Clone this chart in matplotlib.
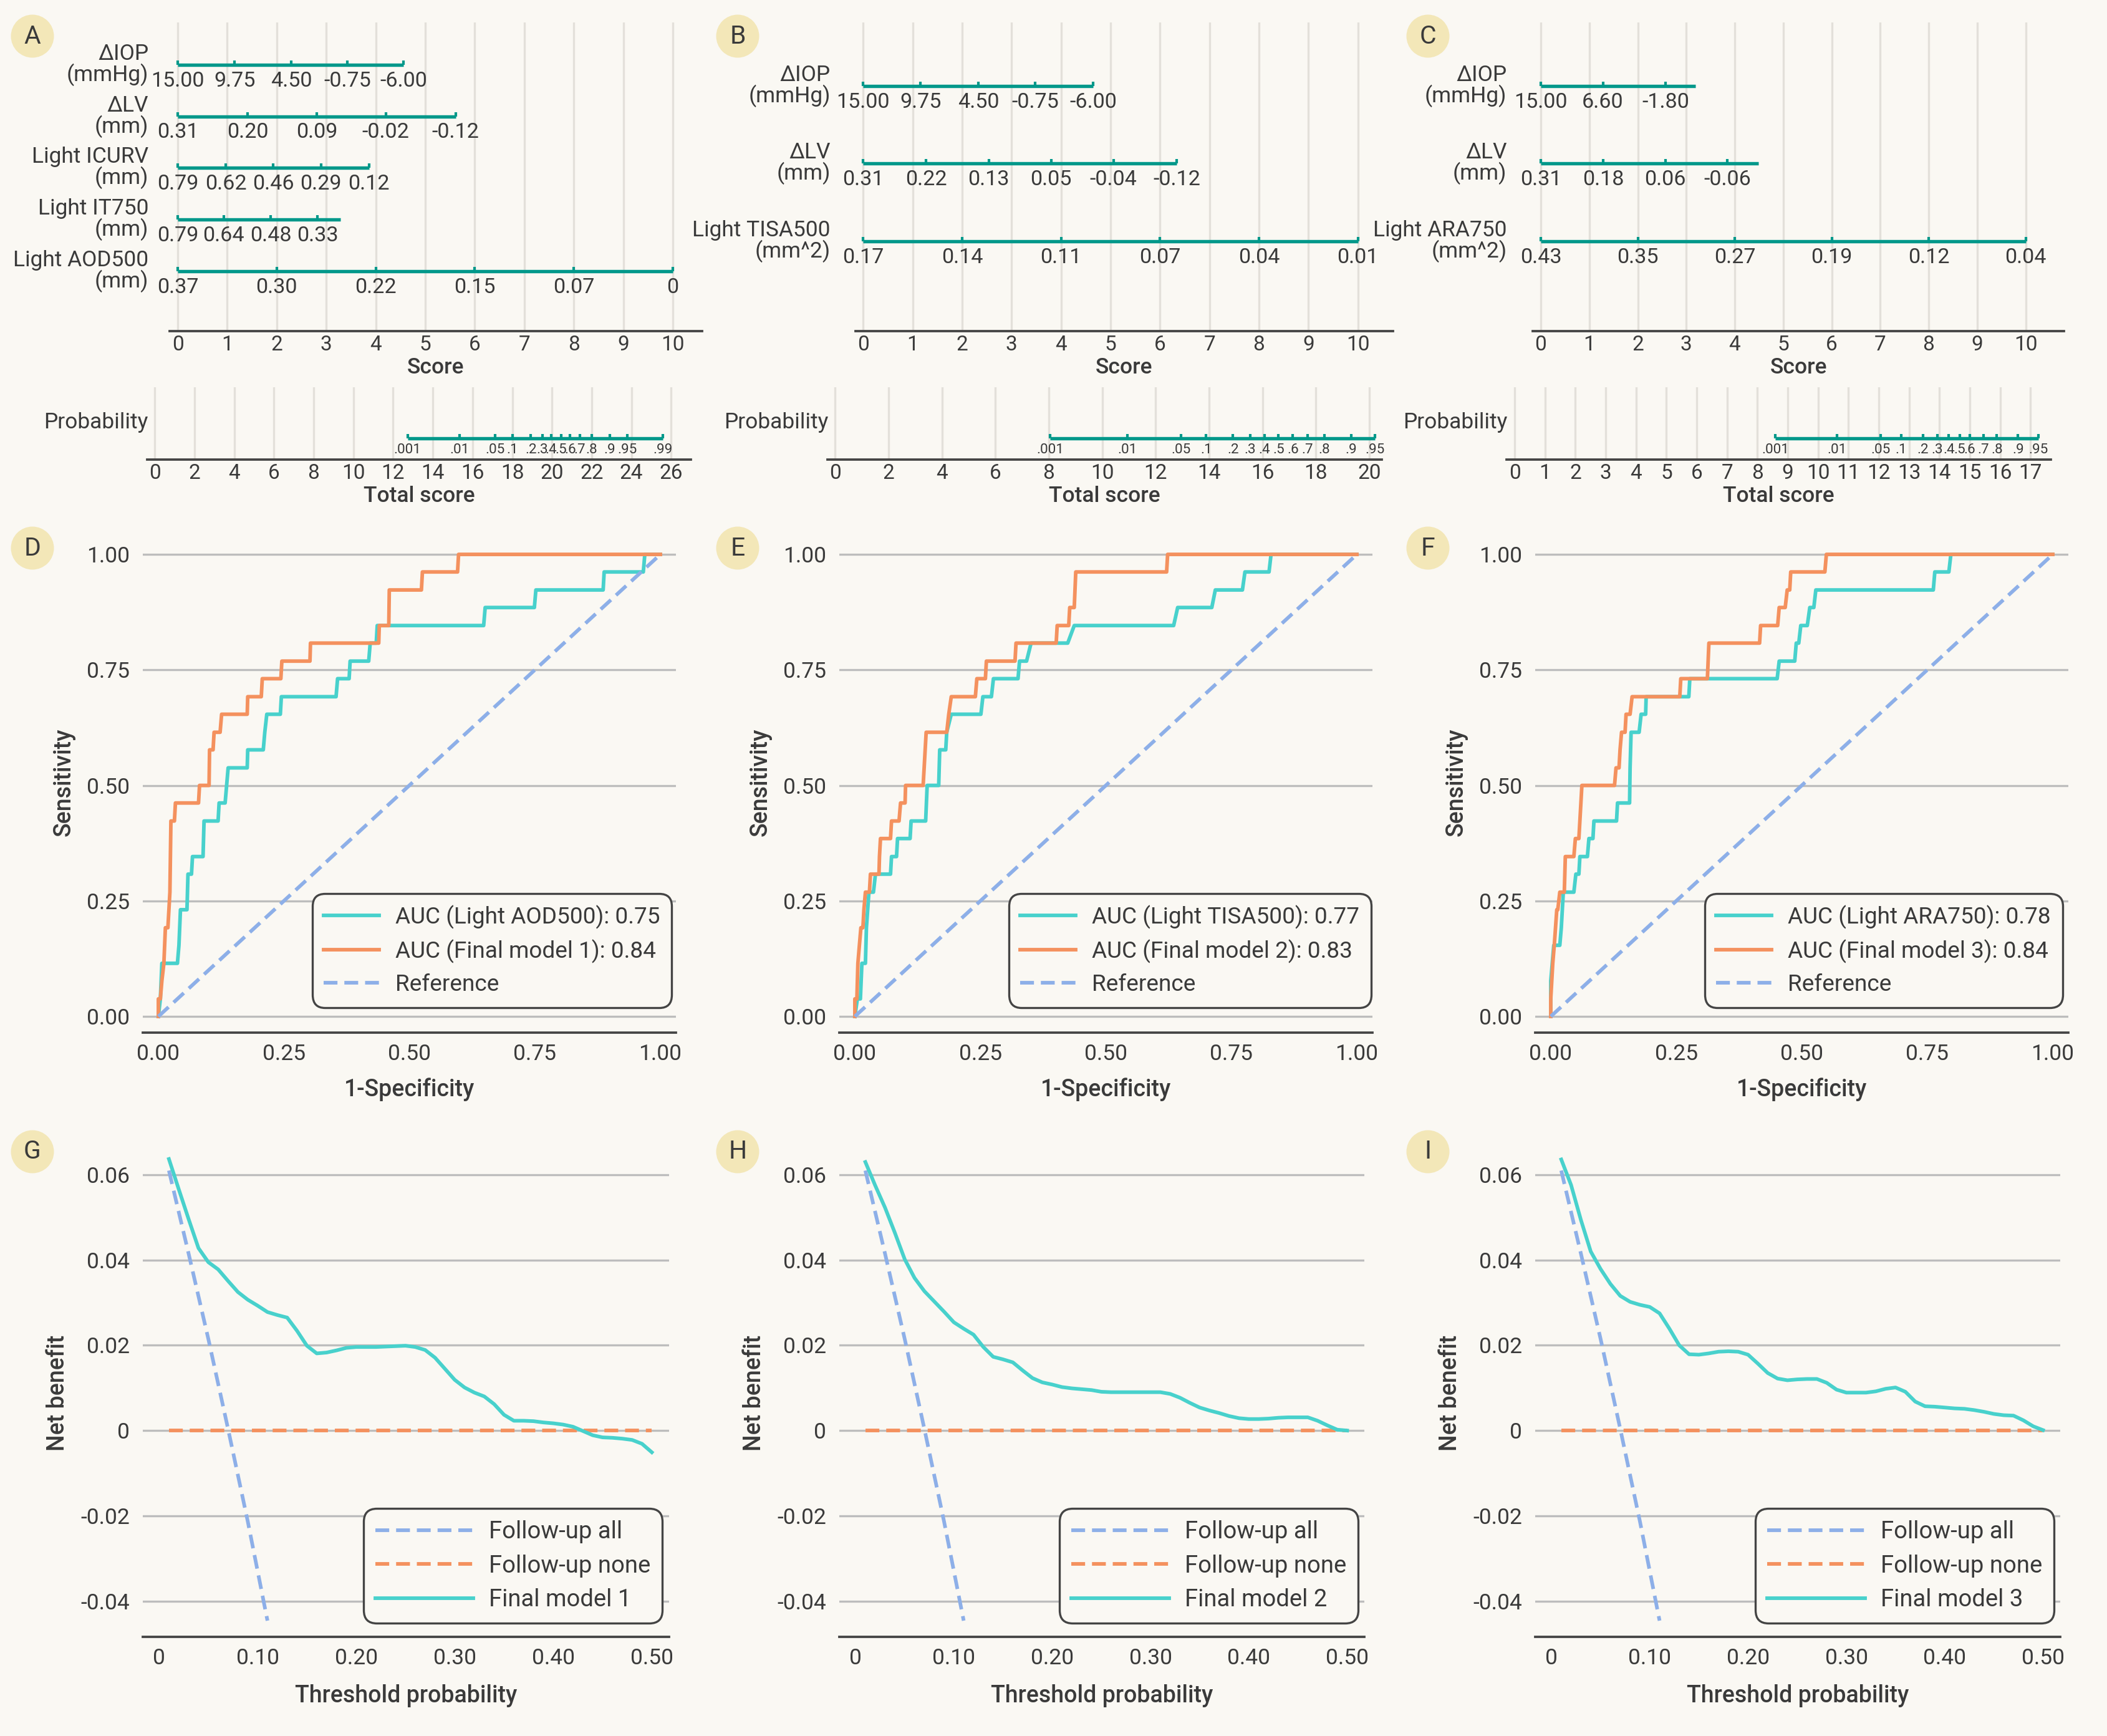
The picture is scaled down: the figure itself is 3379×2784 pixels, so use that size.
import numpy as np
import matplotlib
matplotlib.use("Agg")
import matplotlib.pyplot as plt
from matplotlib.patches import Ellipse

plt.rcParams['font.family'] = ['Roboto', 'DejaVu Sans']

# ---------------- data ----------------
# nomogram A
nomo_a_vars = ["ΔIOP\n(mmHg)", "ΔLV\n(mm)", "Light ICURV\n(mm)", "Light IT750\n(mm)", "Light AOD500\n(mm)"]
nomo_a_ticks = [["15.00", "9.75", "4.50", "-0.75", "-6.00"],
                ["0.31", "0.20", "0.09", "-0.02", "-0.12"],
                ["0.79", "0.62", "0.46", "0.29", "0.12"],
                ["0.79", "0.64", "0.48", "0.33"],
                ["0.37", "0.30", "0.22", "0.15", "0.07", "0"]]
nomo_a_points = [[0, 1.15, 2.29, 3.43, 4.56],
                 [0, 1.41, 2.81, 4.20, 5.61],
                 [0, 0.97, 1.93, 2.89, 3.86],
                 [0, 0.93, 1.88, 2.82],
                 [0, 2, 4, 6, 8, 10]]
nomo_a_ends = [4.56, 5.61, 3.86, 3.29, 10]

# nomogram B
nomo_b_vars = ["ΔIOP\n(mmHg)", "ΔLV\n(mm)", "Light TISA500\n(mm^2)"]
nomo_b_ticks = [["15.00", "9.75", "4.50", "-0.75", "-6.00"],
                ["0.31", "0.22", "0.13", "0.05", "-0.04", "-0.12"],
                ["0.17", "0.14", "0.11", "0.07", "0.04", "0.01"]]
nomo_b_points = [[0, 1.16, 2.33, 3.48, 4.65],
                 [0, 1.27, 2.54, 3.80, 5.06, 6.34],
                 [0, 2, 4, 6, 8, 10]]
nomo_b_ends = [4.65, 6.34, 10]

# nomogram C
nomo_c_vars = ["ΔIOP\n(mmHg)", "ΔLV\n(mm)", "Light ARA750\n(mm^2)"]
nomo_c_ticks = [["15.00", "6.60", "-1.80"],
                ["0.31", "0.18", "0.06", "-0.06"],
                ["0.43", "0.35", "0.27", "0.19", "0.12", "0.04"]]
nomo_c_points = [[0, 1.28, 2.57],
                 [0, 1.29, 2.57, 3.85],
                 [0, 2, 4, 6, 8, 10]]
nomo_c_ends = [3.19, 4.49, 10]

# probability scales (total score of each probability tick)
prob_labels = [".001", ".01", ".05", ".1", ".2", ".3", ".4", ".5", ".6", ".7", ".8", ".9", ".95", ".99"]
prob_a_total = [12.73, 15.33, 17.13, 18.01, 18.93, 19.51, 19.96, 20.46, 20.91, 21.40, 21.99, 22.90, 23.78, 25.59]
prob_b_total = [8.05, 10.94, 12.96, 13.89, 14.90, 15.54, 16.08, 16.60, 17.14, 17.68, 18.32, 19.33, 20.22]
prob_c_total = [8.59, 10.62, 12.07, 12.74, 13.45, 13.92, 14.31, 14.66, 15.00, 15.45, 15.89, 16.59, 17.25]

# ROC curves (1-specificity, sensitivity)
roc_d_base = [(0, 0), (0.004, 0.038), (0.007, 0.115), (0.038, 0.115), (0.041, 0.154), (0.044, 0.231),
              (0.057, 0.231), (0.059, 0.308), (0.066, 0.308), (0.068, 0.346), (0.089, 0.346), (0.091, 0.423),
              (0.119, 0.423), (0.121, 0.462), (0.133, 0.462), (0.136, 0.500), (0.139, 0.538), (0.177, 0.538),
              (0.178, 0.577), (0.209, 0.577), (0.212, 0.615), (0.216, 0.654), (0.243, 0.654), (0.245, 0.692),
              (0.354, 0.692), (0.357, 0.731), (0.380, 0.731), (0.382, 0.769), (0.419, 0.769), (0.422, 0.808),
              (0.434, 0.808), (0.436, 0.846), (0.648, 0.846), (0.651, 0.885), (0.749, 0.885), (0.752, 0.923),
              (0.886, 0.923), (0.888, 0.962), (0.966, 0.962), (0.969, 1.0), (1.0, 1.0)]
roc_d_final = [(0, 0), (0, 0.038), (0.004, 0.038), (0.007, 0.077), (0.011, 0.115), (0.014, 0.192), (0.019, 0.192),
               (0.023, 0.269), (0.025, 0.423), (0.032, 0.423), (0.034, 0.462), (0.080, 0.462), (0.082, 0.500),
               (0.101, 0.500), (0.102, 0.577), (0.109, 0.577), (0.111, 0.615), (0.123, 0.615), (0.126, 0.654),
               (0.177, 0.654), (0.178, 0.692), (0.205, 0.692), (0.207, 0.731), (0.244, 0.731), (0.246, 0.769),
               (0.302, 0.769), (0.303, 0.808), (0.439, 0.808), (0.440, 0.846), (0.459, 0.846), (0.460, 0.923),
               (0.524, 0.923), (0.526, 0.962), (0.596, 0.962), (0.598, 1.0), (1.0, 1.0)]
roc_e_base = [(0, 0), (0.005, 0.038), (0.011, 0.038), (0.014, 0.115), (0.021, 0.115), (0.023, 0.192),
              (0.028, 0.269), (0.037, 0.269), (0.041, 0.308), (0.071, 0.308), (0.073, 0.346), (0.083, 0.346),
              (0.085, 0.385), (0.110, 0.385), (0.112, 0.423), (0.141, 0.423), (0.144, 0.500), (0.167, 0.500),
              (0.169, 0.577), (0.181, 0.577), (0.183, 0.615), (0.192, 0.654), (0.251, 0.654), (0.255, 0.692),
              (0.272, 0.692), (0.276, 0.731), (0.325, 0.731), (0.328, 0.769), (0.342, 0.769), (0.351, 0.808),
              (0.424, 0.808), (0.437, 0.846), (0.635, 0.846), (0.643, 0.885), (0.711, 0.885), (0.718, 0.923),
              (0.772, 0.923), (0.777, 0.962), (0.825, 0.962), (0.829, 1.0), (1.0, 1.0)]
roc_e_final = [(0, 0), (0, 0.038), (0.004, 0.038), (0.005, 0.077), (0.006, 0.115), (0.009, 0.154), (0.012, 0.192),
               (0.016, 0.192), (0.018, 0.231), (0.021, 0.269), (0.029, 0.269), (0.031, 0.308), (0.048, 0.308),
               (0.049, 0.346), (0.051, 0.385), (0.071, 0.385), (0.073, 0.423), (0.088, 0.423), (0.091, 0.462),
               (0.100, 0.462), (0.101, 0.500), (0.136, 0.500), (0.138, 0.538), (0.142, 0.615), (0.183, 0.615),
               (0.187, 0.654), (0.192, 0.692), (0.240, 0.692), (0.243, 0.731), (0.260, 0.731), (0.262, 0.769),
               (0.319, 0.769), (0.321, 0.808), (0.401, 0.808), (0.403, 0.846), (0.426, 0.846), (0.428, 0.885),
               (0.437, 0.885), (0.440, 0.962), (0.621, 0.962), (0.623, 1.0), (1.0, 1.0)]
roc_f_base = [(0, 0), (0, 0.077), (0.006, 0.154), (0.018, 0.154), (0.021, 0.192), (0.025, 0.269), (0.046, 0.269),
              (0.050, 0.308), (0.056, 0.308), (0.058, 0.346), (0.073, 0.346), (0.076, 0.385), (0.084, 0.385),
              (0.086, 0.423), (0.131, 0.423), (0.133, 0.462), (0.157, 0.462), (0.158, 0.538), (0.160, 0.615),
              (0.176, 0.615), (0.180, 0.654), (0.189, 0.654), (0.190, 0.692), (0.275, 0.692), (0.277, 0.731),
              (0.451, 0.731), (0.455, 0.769), (0.486, 0.769), (0.489, 0.808), (0.494, 0.808), (0.498, 0.846),
              (0.511, 0.846), (0.516, 0.885), (0.524, 0.885), (0.528, 0.923), (0.762, 0.923), (0.765, 0.962),
              (0.793, 0.962), (0.797, 1.0), (1.0, 1.0)]
roc_f_final = [(0, 0), (0, 0.038), (0.004, 0.115), (0.007, 0.154), (0.012, 0.231), (0.014, 0.231), (0.018, 0.269),
               (0.027, 0.269), (0.029, 0.346), (0.046, 0.346), (0.049, 0.385), (0.056, 0.385), (0.058, 0.423),
               (0.062, 0.500), (0.127, 0.500), (0.130, 0.538), (0.136, 0.538), (0.138, 0.577), (0.141, 0.615),
               (0.148, 0.615), (0.150, 0.654), (0.158, 0.654), (0.162, 0.692), (0.257, 0.692), (0.259, 0.731),
               (0.312, 0.731), (0.315, 0.808), (0.416, 0.808), (0.418, 0.846), (0.452, 0.846), (0.455, 0.885),
               (0.467, 0.885), (0.471, 0.923), (0.476, 0.923), (0.478, 0.962), (0.546, 0.962), (0.549, 1.0),
               (1.0, 1.0)]
roc_names = ["Light AOD500", "Light TISA500", "Light ARA750"]
auc_base = [0.75, 0.77, 0.78]
auc_final = [0.84, 0.83, 0.84]

# decision curves
thresholds = np.arange(1, 51) / 100
nb_g = [0.0637, 0.0566, 0.0496, 0.0428, 0.0395, 0.0378, 0.0351, 0.0325, 0.0307, 0.0293,
        0.0278, 0.0271, 0.0265, 0.0234, 0.0199, 0.0181, 0.0183, 0.0188, 0.0194, 0.0196,
        0.0196, 0.0196, 0.0197, 0.0198, 0.0199, 0.0196, 0.0189, 0.0171, 0.0145, 0.0119,
        0.0101, 0.0089, 0.0080, 0.0062, 0.0037, 0.0023, 0.0023, 0.0022, 0.0019, 0.0017,
        0.0014, 0.0009, -0.0001, -0.0011, -0.0016, -0.0017, -0.0019, -0.0022, -0.0031, -0.0051]
nb_h = [0.0630, 0.0575, 0.0523, 0.0464, 0.0402, 0.0358, 0.0327, 0.0303, 0.0279, 0.0254,
        0.0239, 0.0225, 0.0196, 0.0173, 0.0167, 0.0160, 0.0141, 0.0123, 0.0113, 0.0108,
        0.0102, 0.0099, 0.0097, 0.0095, 0.0091, 0.0090, 0.0090, 0.0090, 0.0090, 0.0090,
        0.0090, 0.0086, 0.0077, 0.0065, 0.0054, 0.0047, 0.0041, 0.0034, 0.0029, 0.0027,
        0.0027, 0.0028, 0.0030, 0.0031, 0.0031, 0.0031, 0.0023, 0.0012, 0.0002, 0.0]
nb_i = [0.0636, 0.0576, 0.0494, 0.0420, 0.0379, 0.0344, 0.0316, 0.0302, 0.0295, 0.0290,
        0.0275, 0.0239, 0.0200, 0.0179, 0.0178, 0.0181, 0.0185, 0.0186, 0.0185, 0.0178,
        0.0157, 0.0135, 0.0122, 0.0118, 0.0120, 0.0121, 0.0121, 0.0112, 0.0096, 0.0089,
        0.0089, 0.0089, 0.0092, 0.0098, 0.0101, 0.0091, 0.0068, 0.0057, 0.0056, 0.0054,
        0.0052, 0.0051, 0.0048, 0.0044, 0.0039, 0.0036, 0.0035, 0.0024, 0.0010, 0.0001]
all_thr = [0.01, 0.03, 0.05, 0.07, 0.09, 0.11]
nb_all = [0.0610, 0.0415, 0.0215, 0.0004, -0.0213, -0.0446]
none_thr = [0.01, 0.50]
nb_none = [0, 0]

# ---------------- style ----------------
W, H = 3379, 2784
BG = '#FAF8F3'
TXT = '#3A3A3A'
TEAL = '#00988A'
CYAN = '#48D1CC'
ORANGE = '#F4915E'
BLUE = '#8DAFE8'
GRID = '#BDBDBD'
VGRID = '#E3E0DA'
SPINE = '#444444'
CIRCLE = '#F3E7B8'
LW = 1.4
DASH = (0, (3.8, 1.9))

fig = plt.figure(figsize=(W / 300, H / 300), dpi=300, facecolor=BG)


def px_axes(left, top, right, bottom):
    ax = fig.add_axes([left / W, 1 - bottom / H, (right - left) / W, (bottom - top) / H])
    ax.set_facecolor('none')
    for s in ['top', 'left', 'right']:
        ax.spines[s].set_visible(False)
    ax.spines['bottom'].set_color(SPINE)
    ax.spines['bottom'].set_linewidth(0.9)
    return ax


def nomogram(box, xlim, label_x, names, ticks, points, ends):
    ax = px_axes(*box)
    n = len(names)
    ax.set_xlim(*xlim)
    ax.set_ylim(n + 0.16, -0.82)
    ax.set_xticks(range(11))
    ax.set_yticks([])
    ax.tick_params(axis='x', length=0, pad=1.5, labelsize=8, labelcolor=TXT)
    ax.grid(axis='x', color=VGRID, lw=0.8)
    ax.set_axisbelow(True)
    ax.set_xlabel('Score', fontsize=8.5, fontweight='medium', color=TXT, labelpad=1)
    for i in range(n):
        ax.plot([0, ends[i]], [i, i], color=TEAL, lw=1.3, solid_capstyle='butt')
        ax.plot(points[i], [i] * len(points[i]), ls='none', marker=2, ms=1.6, mew=1.0, color=TEAL)
        for p, t in zip(points[i], ticks[i]):
            ax.annotate(t, (p, i), xytext=(0, -6.2), textcoords='offset points',
                        ha='center', va='center', fontsize=8.2, color=TXT)
        ax.text(label_x, i, names[i], ha='right', va='center', multialignment='right',
                linespacing=0.95, fontsize=8.5, color=TXT)


def prob_scale(box, xlim, xticks, totals):
    ax = px_axes(*box)
    ax.set_xlim(*xlim)
    ax.set_ylim(0, 1)
    ax.set_xticks(xticks)
    ax.set_yticks([])
    ax.tick_params(axis='x', length=0, pad=1.5, labelsize=8, labelcolor=TXT)
    ax.grid(axis='x', color=VGRID, lw=0.8)
    ax.set_axisbelow(True)
    ax.set_xlabel('Total score', fontsize=8.5, fontweight='medium', color=TXT, labelpad=1)
    y = 0.293
    ax.plot([totals[0], totals[-1]], [y, y], color=TEAL, lw=1.3, solid_capstyle='butt')
    ax.plot(totals, [y] * len(totals), ls='none', marker=2, ms=1.6, mew=1.0, color=TEAL)
    for p, t in zip(totals, prob_labels):
        ax.annotate(t, (p, y), xytext=(0, -4.4), textcoords='offset points',
                    ha='center', va='center', fontsize=5.4, color=TXT)
    ax.text(0.002, 0.517, 'Probability', transform=ax.transAxes, ha='right', va='center',
            fontsize=8.5, color=TXT)


def style_legend(leg):
    fr = leg.get_frame()
    fr.set_linewidth(0.8)
    fr.set_edgecolor(SPINE)
    fr.set_facecolor(BG)
    fr.set_alpha(1)
    fr.set_boxstyle('round,pad=0,rounding_size=0.55')
    for t in leg.get_texts():
        t.set_color(TXT)


def roc_panel(box, base, final, name, a_base, a_final, k):
    ax = px_axes(*box)
    bx, by = zip(*base)
    fx, fy = zip(*final)
    ax.plot(bx, by, color=CYAN, lw=LW, label=f"AUC ({name}): {a_base:.2f}")
    ax.plot(fx, fy, color=ORANGE, lw=LW, label=f"AUC (Final model {k}): {a_final:.2f}")
    ax.plot([0, 1], [0, 1], color=BLUE, lw=LW, ls=DASH, label='Reference')
    ax.set_xlim(-0.031, 1.031)
    ax.set_ylim(-0.035, 1.05)
    t = [0, 0.25, 0.5, 0.75, 1.0]
    ax.set_xticks(t, [f"{v:.2f}" for v in t])
    ax.set_yticks(t, [f"{v:.2f}" for v in t])
    ax.tick_params(axis='both', length=0, labelsize=8.5, labelcolor=TXT)
    ax.tick_params(axis='x', pad=4.4)
    ax.tick_params(axis='y', pad=5)
    ax.yaxis.grid(True, color=GRID, lw=0.8)
    ax.set_axisbelow(True)
    ax.set_xlabel('1-Specificity', fontsize=9, fontweight='medium', color=TXT, labelpad=5)
    ax.set_ylabel('Sensitivity', fontsize=9, fontweight='medium', color=TXT, labelpad=4.5)
    leg = ax.legend(loc='lower left', bbox_to_anchor=(0.318, 0.05), borderaxespad=0, fontsize=8.9,
                    handlelength=2.4, handletextpad=0.7, labelspacing=0.45, borderpad=0.5)
    style_legend(leg)


def dca_panel(box, nb, k):
    ax = px_axes(*box)
    ax.plot(all_thr, nb_all, color=BLUE, lw=LW, ls=DASH, label='Follow-up all')
    ax.plot(none_thr, nb_none, color=ORANGE, lw=LW, ls=DASH, label='Follow-up none')
    ax.plot(thresholds, nb, color=CYAN, lw=LW, label=f'Final model {k}')
    ax.set_xlim(-0.0165, 0.5175)
    ax.set_ylim(-0.0484, 0.066)
    xt = [0, 0.1, 0.2, 0.3, 0.4, 0.5]
    ax.set_xticks(xt, ['0'] + [f"{v:.2f}" for v in xt[1:]])
    yt = [-0.04, -0.02, 0, 0.02, 0.04, 0.06]
    ax.set_yticks(yt, ['0' if v == 0 else f"{v:.2f}" for v in yt])
    ax.tick_params(axis='both', length=0, labelsize=8.5, labelcolor=TXT)
    ax.tick_params(axis='x', pad=4.4)
    ax.tick_params(axis='y', pad=5)
    ax.yaxis.grid(True, color=GRID, lw=0.8)
    ax.set_axisbelow(True)
    ax.set_xlabel('Threshold probability', fontsize=9, fontweight='medium', color=TXT, labelpad=6)
    ax.set_ylabel('Net benefit', fontsize=9, fontweight='medium', color=TXT, labelpad=4.5)
    leg = ax.legend(loc='lower left', bbox_to_anchor=(0.419, 0.028), borderaxespad=0, fontsize=9.2,
                    handlelength=4.1, handletextpad=0.65, labelspacing=0.45, borderpad=0.5)
    style_legend(leg)


# ---------------- panels ----------------
nomogram((272, 36, 1126, 531), (-0.164, 10.59), -0.59, nomo_a_vars, nomo_a_ticks, nomo_a_points, nomo_a_ends)
nomogram((1372, 36, 2234, 531), (-0.155, 10.71), -0.66, nomo_b_vars, nomo_b_ticks, nomo_b_points, nomo_b_ends)
nomogram((2458, 36, 3310, 531), (-0.167, 10.79), -0.70, nomo_c_vars, nomo_c_ticks, nomo_c_points, nomo_c_ends)

prob_scale((236, 621, 1108, 737), (-0.38, 26.99), range(0, 27, 2), prob_a_total)
prob_scale((1327, 621, 2216, 737), (-0.29, 20.47), range(0, 21, 2), prob_b_total)
prob_scale((2416, 621, 3289, 737), (-0.27, 17.67), range(0, 18), prob_c_total)

roc_panel((229, 852, 1084, 1656), roc_d_base, roc_d_final, roc_names[0], auc_base[0], auc_final[0], 1)
roc_panel((1346, 852, 2201, 1656), roc_e_base, roc_e_final, roc_names[1], auc_base[1], auc_final[1], 2)
roc_panel((2462, 852, 3317, 1656), roc_f_base, roc_f_final, roc_names[2], auc_base[2], auc_final[2], 3)

dca_panel((229, 1843, 1073, 2625), nb_g, 1)
dca_panel((1346, 1843, 2188, 2625), nb_h, 2)
dca_panel((2462, 1843, 3304, 2625), nb_i, 3)

# panel letters
letters = ["A", "B", "C", "D", "E", "F", "G", "H", "I"]
letter_x = [52, 1183, 2290]
letter_y = [58, 879, 1847]
for idx, letter in enumerate(letters):
    cx = letter_x[idx % 3]
    cy = letter_y[idx // 3]
    fig.add_artist(Ellipse((cx / W, 1 - cy / H), 69 / W, 69 / H, transform=fig.transFigure,
                           facecolor=CIRCLE, edgecolor='none'))
    fig.text(cx / W, 1 - cy / H, letter, ha='center', va='center', fontsize=9.8, color=TXT)

fig.savefig('out.png', dpi=300, facecolor=BG)
